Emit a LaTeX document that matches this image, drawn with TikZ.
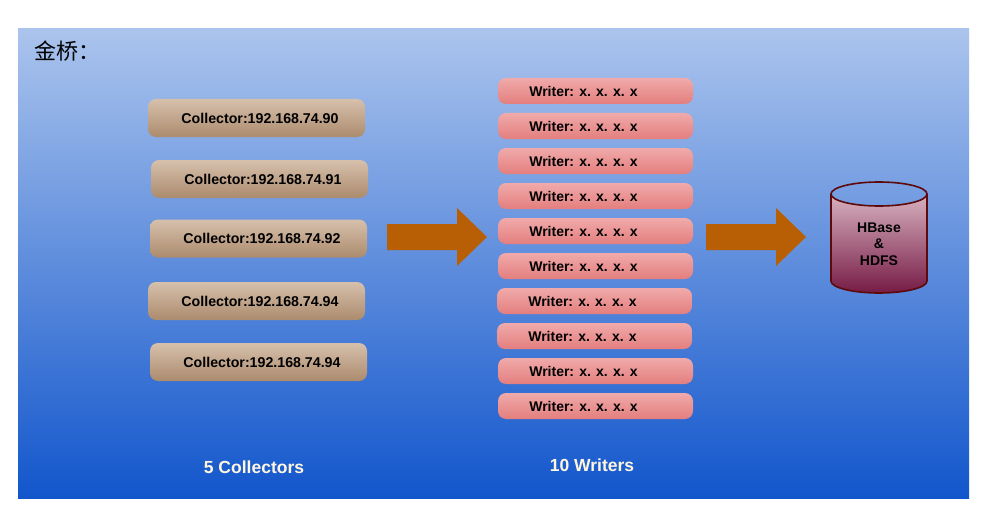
\documentclass[tikz,border=0pt]{standalone}
\usepackage{fontspec}
\setmainfont{Liberation Sans}
\newfontfamily\cjk{Noto Sans CJK SC}
\definecolor{bgtop}{HTML}{ABC4ED}
\definecolor{bgbot}{HTML}{1256CC}
\definecolor{coltop}{HTML}{D6C0AC}
\definecolor{colbot}{HTML}{AC8B6D}
\definecolor{wrtop}{HTML}{F0AAAA}
\definecolor{wrbot}{HTML}{E47E7E}
\definecolor{arrowc}{HTML}{B85F06}
\definecolor{cyltop}{HTML}{D8B2C0}
\definecolor{cylbot}{HTML}{761B45}
\definecolor{cylline}{HTML}{5E0A0A}
\definecolor{labc}{HTML}{FFF6E0}
\tikzset{
  colbox/.style={rounded corners=8pt, top color=coltop, bottom color=colbot, draw=none,
    minimum width=217pt, minimum height=38pt, inner sep=0pt},
  coltext/.style={font=\fontsize{14.2}{17}\selectfont\bfseries},
  wrbox/.style={rounded corners=8pt, top color=wrtop, bottom color=wrbot, draw=none,
    minimum width=195pt, minimum height=26pt, inner sep=0pt},
  wrtext/.style={font=\fontsize{14}{17}\selectfont\bfseries},
  biglabel/.style={text=labc, font=\fontsize{17.5}{21}\selectfont\bfseries},
  fatarrow/.style={fill=arrowc, draw=none}
}
\begin{document}
\begin{tikzpicture}[x=1pt,y=-1pt]
\useasboundingbox (0,0) rectangle (989,519);
\fill[white] (0,0) rectangle (989,519);
\shade[top color=bgtop, bottom color=bgbot] (18,29) rectangle (969,498);
\node[anchor=west, font=\cjk\fontsize{22}{26}\selectfont] (title) at (31,51) {金桥：};
% collectors
\foreach \i/\x/\y/\t in {1/256.5/118/90, 2/259.5/179/91, 3/258.5/238.5/92, 4/256.5/301/94, 5/258.5/362/94}{
  \node[colbox] (c\i) at (\x,\y) {};
  \node[coltext] (ct\i) at ([xshift=3.5pt]c\i.center) {Collector:192.168.74.\t};
}
% writers
\foreach \i/\y/\x in {1/91/595.5,2/126/595.5,3/161/595.5,4/196/595.5,5/231/595.5,6/266/595.5,7/301/594.5,8/336/594.5,9/371/595.5,10/406/595.5}{
  \node[wrbox] (w\i) at (\x,\y) {};
  \node[wrtext] (wt\i) at ([xshift=-12pt]w\i.center) {Writer: x. x. x. x};
}
% arrows
\fill[fatarrow] (387,224) -- (457,224) -- (457,208) -- (487,237) -- (457,266) -- (457,250) -- (387,250) -- cycle;
\fill[fatarrow] (706,224) -- (776,224) -- (776,208) -- (806,237) -- (776,266) -- (776,250) -- (706,250) -- cycle;
% cylinder
\shade[top color=cyltop, bottom color=cylbot] (831,194) -- (831,281) arc[start angle=180, end angle=360, x radius=48, y radius=-12] -- (927,194) arc[start angle=0, end angle=180, x radius=48, y radius=12] -- cycle;
\draw[cylline, line width=1.6pt] (831,194) -- (831,281) arc[start angle=180, end angle=360, x radius=48, y radius=-12] -- (927,194);
\draw[cylline, line width=1.6pt] (879,194) ellipse[x radius=48, y radius=12];
\node[font=\fontsize{14}{16.5}\selectfont\bfseries, align=center] (db) at (879,244) {HBase\\\&\\HDFS};
% labels
\node[biglabel] (lc) at (254,467) {5 Collectors};
\node[biglabel] (lw) at (592,465) {10 Writers};
\end{tikzpicture}
\end{document}
